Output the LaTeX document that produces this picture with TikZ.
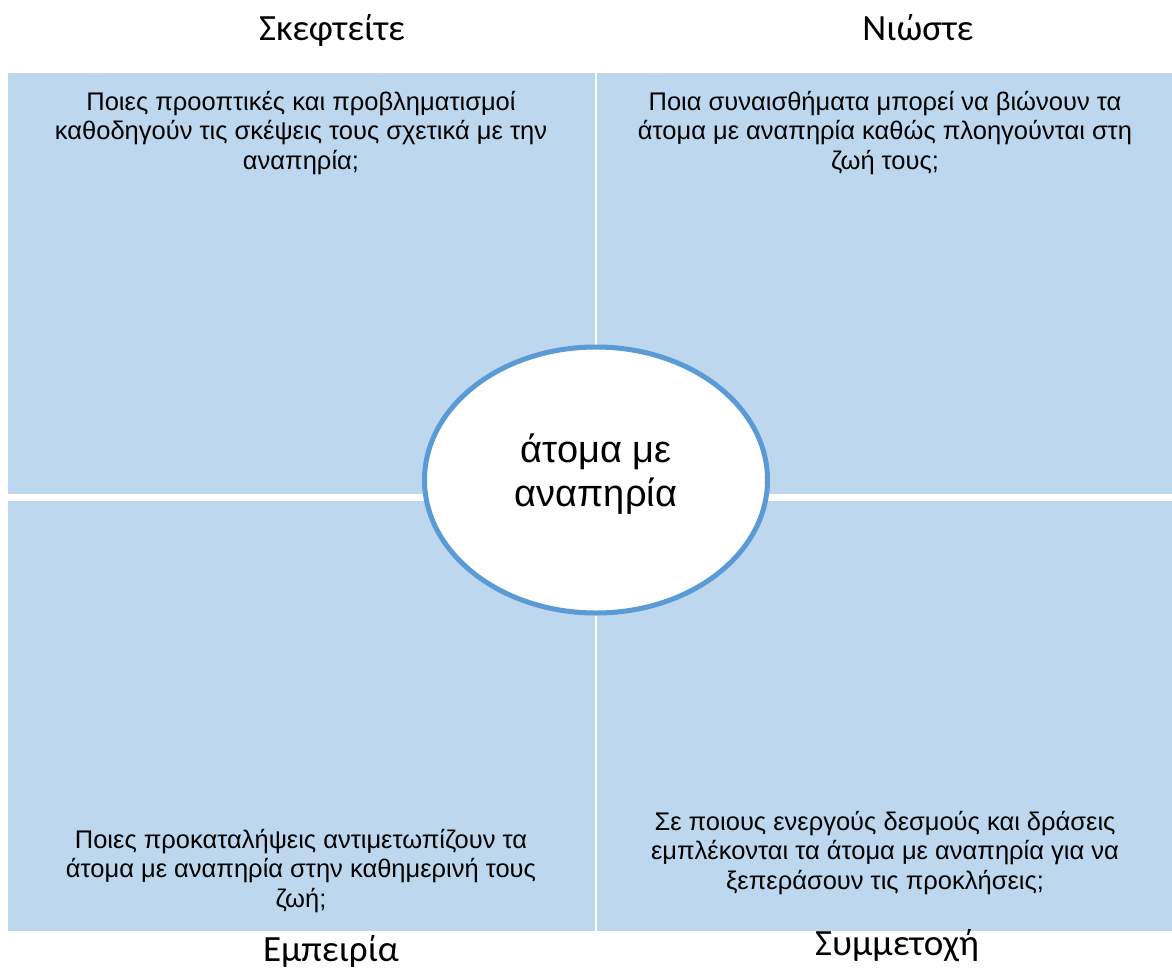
\documentclass[tikz,border=0pt]{standalone}
\usepackage{fontspec}
\setmainfont{Liberation Sans}
\newfontfamily\titlefont{Carlito}
\usepackage{tikz}
\usetikzlibrary{shapes,positioning}
\definecolor{paleblue}{HTML}{BDD7EE}
\definecolor{rimblue}{HTML}{5B9BD5}
\tikzstyle{quadrant} = [fill=paleblue, draw=none, rectangle, anchor=north west, inner sep=0pt]
\tikzstyle{heading} = [font=\titlefont\fontsize{37}{44}\selectfont, anchor=base, inner sep=0pt]
\tikzstyle{question} = [font=\fontsize{25.5}{29.3}\selectfont, align=center, anchor=north, inner sep=0pt]
\tikzstyle{centre} = [ellipse, draw=rimblue, line width=5pt, fill=white, minimum width=343pt, minimum height=266pt, inner sep=0pt]

\begin{document}
\begin{tikzpicture}[x=1pt,y=-1pt]
					\useasboundingbox (0,0) rectangle (1172,969);
					% the four fields
					\node [quadrant, minimum width=587pt, minimum height=421pt] (think) at (8,73) {};
					\node [quadrant, minimum width=575pt, minimum height=421pt] (feel) at (597,73) {};
					\node [quadrant, minimum width=587pt, minimum height=430pt] (live) at (8,501) {};
					\node [quadrant, minimum width=575pt, minimum height=430pt] (act) at (597,501) {};
					% questions
					\node [question] (thinkq) at (301,91) {Ποιες προοπτικές και προβληματισμοί\\καθοδηγούν τις σκέψεις τους σχετικά με την\\αναπηρία;};
					\node [question] (feelq) at (885,91) {Ποια συναισθήματα μπορεί να βιώνουν τα\\άτομα με αναπηρία καθώς πλοηγούνται στη\\ζωή τους;};
					\node [question] (liveq) at (301,829) {Ποιες προκαταλήψεις αντιμετωπίζουν τα\\άτομα με αναπηρία στην καθημερινή τους\\ζωή;};
					\node [question] (actq) at (885,811) {Σε ποιους ενεργούς δεσμούς και δράσεις\\εμπλέκονται τα άτομα με αναπηρία για να\\ξεπεράσουν τις προκλήσεις;};
					% headings
					\node [heading] (thinkt) at (332,40) {Σκεφτείτε};
					\node [heading] (feelt) at (918,40) {Νιώστε};
					\node [heading] (livet) at (331,961) {Εμπειρία};
					\node [heading] (actt) at (897,955) {Συμμετοχή};
					% the middle
					\node [centre] (person) at (596,480) {};
					\node [font=\fontsize{38}{43.7}\selectfont, align=center, inner sep=0pt] (personl) at (596,474) {άτομα με\\αναπηρία};
				\end{tikzpicture}
\end{document}
